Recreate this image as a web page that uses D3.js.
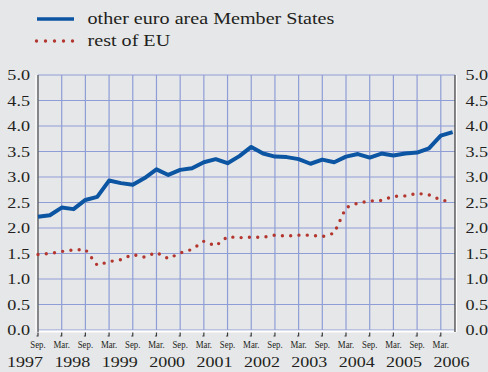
<!DOCTYPE html>
<html>
<head>
<meta charset="utf-8">
<script src="https://cdn.jsdelivr.net/npm/d3@7"></script>
<style>
  html, body { margin: 0; padding: 0; background: #e6e7e9; }
  svg { display: block; }
</style>
</head>
<body>
<svg id="chart" width="488" height="372"></svg>
<script>
// Quarterly observations, September 1997 to June 2006 (percent)
const euroAreaOthers = [
  2.22, 2.25, 2.40, 2.37, 2.55, 2.61, 2.93, 2.88, 2.85, 2.98,
  3.15, 3.04, 3.14, 3.17, 3.29, 3.35, 3.27, 3.41, 3.59, 3.46,
  3.40, 3.39, 3.35, 3.26, 3.34, 3.29, 3.40, 3.45, 3.38, 3.46,
  3.42, 3.46, 3.48, 3.56, 3.81, 3.88
];
const restOfEU = [
  1.48, 1.50, 1.54, 1.57, 1.58, 1.27, 1.34, 1.38, 1.48, 1.43,
  1.52, 1.40, 1.51, 1.58, 1.74, 1.65, 1.83, 1.81, 1.82, 1.82,
  1.86, 1.84, 1.86, 1.86, 1.83, 1.90, 2.40, 2.49, 2.53, 2.54,
  2.62, 2.63, 2.68, 2.65, 2.55, 2.51
];
const seriesNames = ["other euro area Member States", "rest of EU"];
const yTicks = [0.0, 0.5, 1.0, 1.5, 2.0, 2.5, 3.0, 3.5, 4.0, 4.5, 5.0];
const monthTickLabels = ["Sep.", "Mar."];
const yearLabels = ["1997", "1998", "1999", "2000", "2001", "2002", "2003", "2004", "2005", "2006"];

const svg = d3.select("#chart");
const plot = { left: 38, right: 455, top: 75, bottom: 330 };

// months elapsed since September 1997
const x = d3.scaleLinear().domain([0, 105.6]).range([plot.left, plot.right]);
const y = d3.scaleLinear().domain([0, 5]).range([plot.bottom, plot.top]);

const gridColor = "#8f9dd6";
const monthTicks = d3.range(0, 103, 6);

// horizontally stretched serif text
function label(g, tx, ty, str, size, sx, anchor) {
  return g.append("text")
    .attr("transform", `translate(${tx},${ty}) scale(${sx},1)`)
    .attr("text-anchor", anchor)
    .attr("font-family", "Liberation Serif")
    .attr("font-size", size)
    .attr("fill", "#231f20")
    .text(str);
}

// grid
const grid = svg.append("g");
grid.selectAll("line.h").data(yTicks).join("line")
  .attr("x1", plot.left).attr("x2", plot.right)
  .attr("y1", d => y(d)).attr("y2", d => y(d))
  .attr("stroke", gridColor).attr("stroke-width", 1.2);
grid.selectAll("line.v").data(monthTicks.slice(1)).join("line")
  .attr("x1", d => x(d)).attr("x2", d => x(d))
  .attr("y1", plot.top).attr("y2", plot.bottom)
  .attr("stroke", gridColor).attr("stroke-width", 1.2);

// frame: white bottom axis, dark side axes
svg.append("line").attr("x1", plot.left - 1).attr("x2", plot.right + 1)
  .attr("y1", plot.bottom + 1.5).attr("y2", plot.bottom + 1.5)
  .attr("stroke", "#ffffff").attr("stroke-width", 2);
svg.append("line").attr("x1", plot.left - 2).attr("x2", plot.left - 2)
  .attr("y1", plot.top).attr("y2", plot.bottom + 2)
  .attr("stroke", "#ffffff").attr("stroke-width", 1.2);
svg.append("line").attr("x1", plot.left).attr("x2", plot.left)
  .attr("y1", plot.top).attr("y2", plot.bottom + 2)
  .attr("stroke", "#6d6e71").attr("stroke-width", 1.6);
svg.append("line").attr("x1", plot.right).attr("x2", plot.right)
  .attr("y1", plot.top).attr("y2", plot.bottom + 2)
  .attr("stroke", "#4d4d4f").attr("stroke-width", 1.4);
svg.append("line").attr("x1", plot.right + 1.5).attr("x2", plot.right + 1.5)
  .attr("y1", plot.top).attr("y2", plot.bottom + 2)
  .attr("stroke", "#ffffff").attr("stroke-width", 1.2);

// bottom ticks
svg.append("g").selectAll("path").data(monthTicks).join("path")
  .attr("d", d => `M${x(d)},${plot.bottom + 2.5}v3.5h-1.5`)
  .attr("fill", "none").attr("stroke", "#3c3c3e").attr("stroke-width", 1.2);

// series lines
const line = d3.line().x((d, i) => x(i * 3)).y(d => y(d));
svg.append("path").datum(restOfEU).attr("d", line)
  .attr("fill", "none").attr("stroke", "#b3372f").attr("stroke-width", 3.4)
  .attr("stroke-linecap", "round").attr("stroke-dasharray", "0,8.3");
svg.append("path").datum(euroAreaOthers).attr("d", line)
  .attr("fill", "none").attr("stroke", "#0b55a2").attr("stroke-width", 4)
  .attr("stroke-linejoin", "round");

// y axis labels, both sides
const axisText = svg.append("g");
yTicks.forEach(v => {
  label(axisText, 30, y(v) + 5, v.toFixed(1), 14.5, 1.25, "end");
  label(axisText, 465.5, y(v) + 5, v.toFixed(1), 14.5, 1.25, "start");
});

// month labels and years
monthTicks.forEach((m, i) => {
  label(axisText, x(m), 348, monthTickLabels[i % 2], 10, 0.88, "middle");
});
yearLabels.forEach((yr, i) => {
  label(axisText, x(i * 12 - 3.3), 367, yr, 15, 1.2, "middle");
});

// legend
const legend = svg.append("g");
legend.append("line").attr("x1", 37).attr("x2", 74).attr("y1", 19).attr("y2", 19)
  .attr("stroke", "#0b55a2").attr("stroke-width", 3.6);
legend.append("line").attr("x1", 36.5).attr("x2", 73).attr("y1", 41).attr("y2", 41)
  .attr("stroke", "#b3372f").attr("stroke-width", 3.4)
  .attr("stroke-linecap", "round").attr("stroke-dasharray", "0,9");
label(legend, 87.5, 24, seriesNames[0], 16.5, 1.22, "start");
label(legend, 87.5, 45.5, seriesNames[1], 16.5, 1.22, "start");
</script>
</body>
</html>
